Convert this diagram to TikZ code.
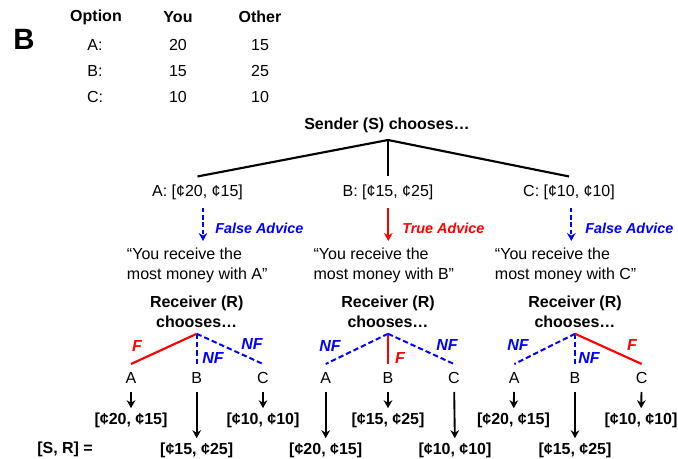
\documentclass[tikz,border=0pt]{standalone}
\usepackage{fontspec}
\setmainfont{Liberation Sans}
\usetikzlibrary{arrows.meta,positioning}

\begin{document}
\begin{tikzpicture}[x=0.75pt,y=-0.75pt,>={Stealth[length=6pt,width=6.5pt]},inner sep=0pt,
                    font=\fontsize{12}{14.5}\selectfont]
  \tikzstyle{head}=[font=\fontsize{12}{14.5}\selectfont\bfseries]
  \tikzstyle{option}=[text height=8.8pt,text depth=2.5pt,inner ysep=5.8pt]
  \tikzstyle{quote}=[align=left,anchor=north west]
  \tikzstyle{receiver}=[align=center,anchor=north,font=\fontsize{12}{15}\selectfont\bfseries]
  \tikzstyle{leaf}=[text height=8.6pt,text depth=0pt,inner ysep=6pt]
  \tikzstyle{payoff}=[head,text height=8.8pt,text depth=2.5pt,inner ysep=3pt]
  \tikzstyle{branch}=[line width=1.6pt]
  \tikzstyle{fav}=[line width=1.6pt,red]
  \tikzstyle{nfav}=[line width=1.5pt,blue,dash pattern=on 4pt off 2.2pt]
  \tikzstyle{blbl}=[font=\fontsize{12}{14.5}\selectfont\bfseries\itshape]
  \tikzstyle{falseadv}=[->,line width=1.4pt,blue,dash pattern=on 3.5pt off 2pt]
  \tikzstyle{trueadv}=[->,line width=1.4pt,red]
  \tikzstyle{alabel}=[anchor=west,font=\fontsize{10.8}{13}\selectfont\bfseries\itshape]
  \tikzstyle{down}=[->,line width=1.4pt]

  \useasboundingbox (0,0) rectangle (678,459);

  % payoff table
  \node[font=\fontsize{22}{26}\selectfont\bfseries] (panel) at (24,39) {B};
  \node[head] (hOpt) at (96,17)  {Option};
  \node[head] (hYou) at (178,17) {You};
  \node[head] (hOth) at (260,17) {Other};
  \node (tA)  at (95,45)  {A:};
  \node (tAY) at (178,45) {20};
  \node (tAO) at (260,45) {15};
  \node (tB)  at (95,71)  {B:};
  \node (tBY) at (178,71) {15};
  \node (tBO) at (260,71) {25};
  \node (tC)  at (95,97)  {C:};
  \node (tCY) at (178,97) {10};
  \node (tCO) at (260,97) {10};

  % sender
  \node[head] (S) at (387,125) {Sender (S) chooses…};
  \coordinate (s) at (388,140);

  \node[option] (oA) at (197.5,192) {A: [¢20, ¢15]};
  \node[option] (oB) at (388,192)   {B: [¢15, ¢25]};
  \node[option] (oC) at (569,192)   {C: [¢10, ¢10]};

  \path[branch] (s) edge (oA.north)
                    edge (oB.north)
                    edge (oC.north);

  % advice
  \coordinate (tipA) at (203,241);
  \coordinate (tipB) at (388.3,241);
  \coordinate (tipC) at (571.3,241);
  \draw[falseadv] (oA.south -| tipA) -- (tipA);
  \draw[trueadv]  (oB.south -| tipB) -- (tipB);
  \draw[falseadv] (oC.south -| tipC) -- (tipC);

  \node[alabel,blue] (aA) at (215,228) {False Advice};
  \node[alabel,red]  (aB) at (402,228) {True Advice};
  \node[alabel,blue] (aC) at (585,228) {False Advice};

  \node[quote] (qA) at (126.7,248) {“You receive the\\most money with A”};
  \node[quote] (qB) at (313.3,248) {“You receive the\\most money with B”};
  \node[quote] (qC) at (494.7,248) {“You receive the\\most money with C”};

  % receivers
  \node[receiver] (rA) at (196.7,295.5) {Receiver (R)\\chooses…};
  \node[receiver] (rB) at (388,295.5)   {Receiver (R)\\chooses…};
  \node[receiver] (rC) at (575,295.5)   {Receiver (R)\\chooses…};
  \coordinate[below=4.5pt of rA] (jA);
  \coordinate[below=4.5pt of rB] (jB);
  \coordinate[below=4.5pt of rC] (jC);

  \node[leaf] (lAA) at (131,378)   {A};
  \node[leaf] (lAB) at (196.7,378) {B};
  \node[leaf] (lAC) at (263,378)   {C};
  \node[leaf] (lBA) at (325.7,378) {A};
  \node[leaf] (lBB) at (388,378)   {B};
  \node[leaf] (lBC) at (454,378)   {C};
  \node[leaf] (lCA) at (514.3,378) {A};
  \node[leaf] (lCB) at (575,378)   {B};
  \node[leaf] (lCC) at (641.7,378) {C};

  \path (jA) edge[fav]  (lAA.north)
             edge[nfav] (lAB.north)
             edge[nfav] (lAC.north)
        (jB) edge[nfav] (lBA.north)
             edge[fav]  (lBB.north)
             edge[nfav] (lBC.north)
        (jC) edge[nfav] (lCA.north)
             edge[nfav] (lCB.north)
             edge[fav]  (lCC.north);

  \node[blbl,red]  (fAA) at (137,346) {F};
  \node[blbl,blue] (nAB) at (213,358) {NF};
  \node[blbl,blue] (nAC) at (252,344) {NF};
  \node[blbl,blue] (nBA) at (330,346) {NF};
  \node[blbl,red]  (fBB) at (400,358) {F};
  \node[blbl,blue] (nBC) at (447,345) {NF};
  \node[blbl,blue] (nCA) at (518,345) {NF};
  \node[blbl,blue] (nCB) at (589,358) {NF};
  \node[blbl,red]  (fCC) at (632,345) {F};

  % outcomes
  \node[payoff] (pAA) at (131,420)   {[¢20, ¢15]};
  \node[payoff] (pAB) at (196.7,450) {[¢15, ¢25]};
  \node[payoff] (pAC) at (263,420)   {[¢10, ¢10]};
  \node[payoff] (pBA) at (325.7,450) {[¢20, ¢15]};
  \node[payoff] (pBB) at (388,420)   {[¢15, ¢25]};
  \node[payoff] (pBC) at (455,450)   {[¢10, ¢10]};
  \node[payoff] (pCA) at (513.5,420) {[¢20, ¢15]};
  \node[payoff] (pCB) at (575,450)   {[¢15, ¢25]};
  \node[payoff] (pCC) at (641,420)   {[¢10, ¢10]};

  \path[down] (lAA) edge (pAA)  (lAB) edge (pAB)  (lAC) edge (pAC)
              (lBA) edge (pBA)  (lBB) edge (pBB)  (lBC) edge (pBC)
              (lCA) edge (pCA)  (lCB) edge (pCB)  (lCC) edge (pCC);

  \node[head,anchor=west] (SR) at (37,449) {[S, R] =};
\end{tikzpicture}
\end{document}
